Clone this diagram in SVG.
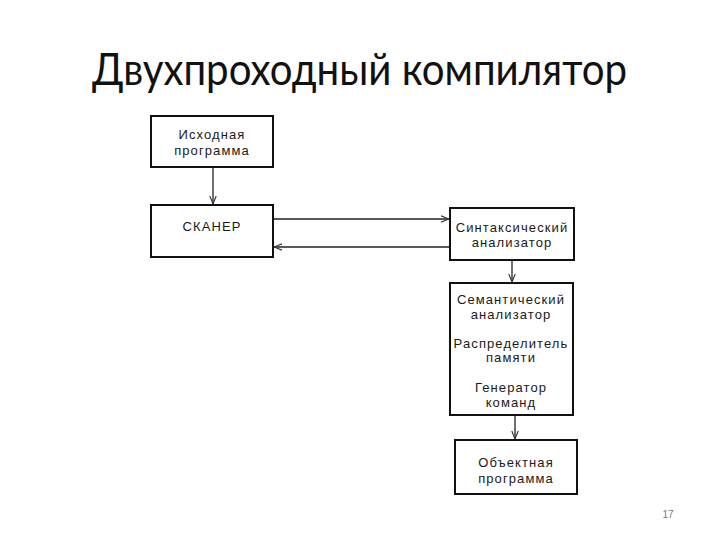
<svg xmlns="http://www.w3.org/2000/svg" width="720" height="540" viewBox="0 0 720 540">
<style>
.box{fill:#fff;stroke:#111;stroke-width:2}
.t{font-family:"Liberation Sans",Arial,sans-serif;font-size:13px;letter-spacing:1.1px;fill:#1a1a1a;text-anchor:middle}
.c{fill:none;stroke:#222;stroke-width:1.3}
</style>
<defs>
<marker id="ah" viewBox="0 0 10 10" refX="10" refY="5" markerWidth="8" markerHeight="8" markerUnits="userSpaceOnUse" orient="auto">
<path d="M0,1 L10,5 L0,9" fill="none" stroke="#333" stroke-width="1.4"/>
</marker>
</defs>
<rect width="720" height="540" fill="#fff"/>
<text x="92" y="85" font-family="Lato,'Open Sans',sans-serif" font-size="44" fill="#111" textLength="535" lengthAdjust="spacingAndGlyphs">Двухпроходный компилятор</text>
<g id="connectors">
<line class="c" x1="213" y1="167" x2="213" y2="204" marker-end="url(#ah)"/>
<line class="c" x1="273" y1="219" x2="449" y2="219" marker-end="url(#ah)"/>
<line class="c" x1="450" y1="247" x2="274" y2="247" marker-end="url(#ah)"/>
<line class="c" x1="512" y1="260" x2="512" y2="282" marker-end="url(#ah)"/>
<line class="c" x1="515" y1="415" x2="515" y2="439" marker-end="url(#ah)"/>
</g>
<g id="source">
<rect class="box" x="151" y="116" width="122" height="51"/>
<text class="t" x="212" y="139">Исходная</text>
<text class="t" x="212" y="155">программа</text>
</g>
<g id="scanner">
<rect class="box" x="151" y="205" width="122" height="52"/>
<text class="t" x="212" y="231">СКАНЕР</text>
</g>
<g id="parser">
<rect class="box" x="450" y="208" width="124" height="52"/>
<text class="t" x="512" y="232">Синтаксический</text>
<text class="t" x="512" y="247">анализатор</text>
</g>
<g id="semantic">
<rect class="box" x="450" y="283" width="123" height="132"/>
<text class="t" x="511" y="304">Семантический</text>
<text class="t" x="511" y="319">анализатор</text>
<text class="t" x="511" y="348">Распределитель</text>
<text class="t" x="511" y="362">памяти</text>
<text class="t" x="511" y="392">Генератор</text>
<text class="t" x="511" y="407">команд</text>
</g>
<g id="object">
<rect class="box" x="455" y="440" width="122" height="54"/>
<text class="t" x="516" y="467">Объектная</text>
<text class="t" x="516" y="483">программа</text>
</g>
<text x="668" y="518" font-family="'Liberation Sans',Arial,sans-serif" font-size="10" fill="#777" text-anchor="middle">17</text>
</svg>
